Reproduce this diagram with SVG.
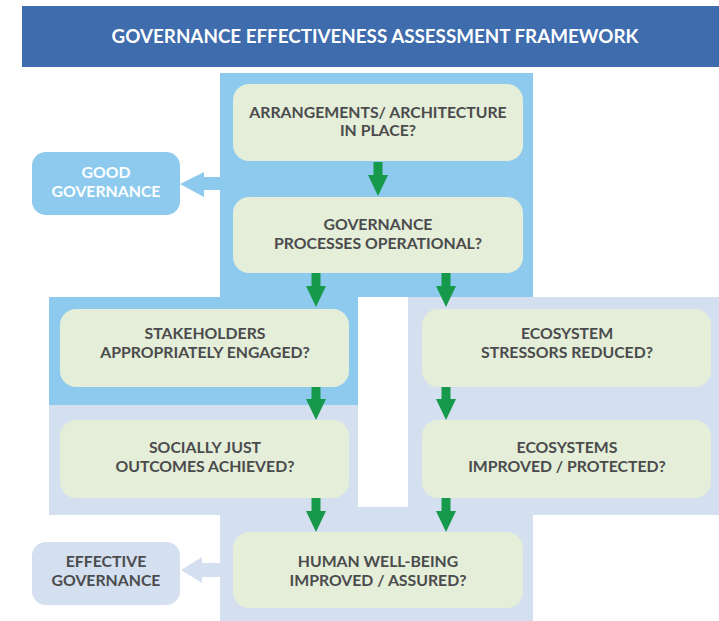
<svg xmlns="http://www.w3.org/2000/svg" width="719" height="621" viewBox="0 0 719 621">
  <style>
    .t { font-family: "Lato", "Open Sans", "Liberation Sans", sans-serif; font-weight: bold; text-anchor: middle; }
    .box { fill: #E4EED8; }
    .bt { font-size: 15.8px; fill: #4B4B4D; }
    .sky { fill: #8DCAEE; }
    .lav { fill: #D4DFF0; }
    .arr { fill: #16994A; }
  </style>
  <defs>
    <path id="garrow" d="M-4.5,0 H4.5 V13 H10 L0,34 L-10,13 H-4.5 Z"/>
  </defs>
  <rect width="719" height="621" fill="#FFFFFF"/>

  <!-- title bar -->
  <g id="title">
    <rect x="22" y="6" width="697" height="61" fill="#3E6CAD"/>
    <text class="t" x="375" y="43" font-size="18.8" fill="#FFFFFF">GOVERNANCE EFFECTIVENESS ASSESSMENT FRAMEWORK</text>
  </g>

  <!-- background regions -->
  <g id="regions">
    <path class="sky" d="M220,73 H533 V297 H358 V405 H49 V297 H220 Z"/>
    <rect class="lav" x="49" y="405" width="309" height="110"/>
    <rect class="lav" x="408" y="297" width="311" height="218"/>
    <rect class="lav" x="220" y="507" width="313" height="114"/>
  </g>

  <!-- connectors -->
  <g id="connectors">
    <use href="#garrow" class="arr" x="378" y="162"/>
    <use href="#garrow" class="arr" x="316" y="273"/>
    <use href="#garrow" class="arr" x="446" y="273"/>
    <use href="#garrow" class="arr" x="316" y="386"/>
    <use href="#garrow" class="arr" x="446" y="386"/>
    <use href="#garrow" class="arr" x="316" y="498"/>
    <use href="#garrow" class="arr" x="446" y="498"/>
    <path class="sky" d="M220,177 H204 V172 L180,184 L204,197 V190 H220 Z"/>
    <path class="lav" d="M220,563 H202 V557 L181,570 L202,583 V577 H220 Z"/>
  </g>

  <g id="arrangements">
    <rect class="box" x="233" y="84" width="290" height="77" rx="16"/>
    <text class="t bt" x="378" y="118">ARRANGEMENTS/ ARCHITECTURE</text>
    <text class="t bt" x="378" y="136">IN PLACE?</text>
  </g>

  <g id="processes">
    <rect class="box" x="233" y="197" width="290" height="76" rx="16"/>
    <text class="t bt" x="378" y="230">GOVERNANCE</text>
    <text class="t bt" x="378" y="249">PROCESSES OPERATIONAL?</text>
  </g>

  <g id="good-governance">
    <rect class="sky" x="32" y="152" width="148" height="63" rx="14"/>
    <text class="t" x="106" y="178" font-size="15.8" fill="#FFFFFF">GOOD</text>
    <text class="t" x="106" y="197" font-size="15.8" fill="#FFFFFF">GOVERNANCE</text>
  </g>

  <g id="stakeholders">
    <rect class="box" x="60" y="309" width="289" height="78" rx="16"/>
    <text class="t bt" x="205" y="339">STAKEHOLDERS</text>
    <text class="t bt" x="205" y="358">APPROPRIATELY ENGAGED?</text>
  </g>

  <g id="stressors">
    <rect class="box" x="422" y="309" width="289" height="78" rx="16"/>
    <text class="t bt" x="567" y="339">ECOSYSTEM</text>
    <text class="t bt" x="567" y="358">STRESSORS REDUCED?</text>
  </g>

  <g id="social">
    <rect class="box" x="60" y="420" width="289" height="78" rx="16"/>
    <text class="t bt" x="205" y="453">SOCIALLY JUST</text>
    <text class="t bt" x="205" y="472">OUTCOMES ACHIEVED?</text>
  </g>

  <g id="ecosystems">
    <rect class="box" x="422" y="420" width="289" height="78" rx="16"/>
    <text class="t bt" x="567" y="453">ECOSYSTEMS</text>
    <text class="t bt" x="567" y="472">IMPROVED / PROTECTED?</text>
  </g>

  <g id="wellbeing">
    <rect class="box" x="233" y="532" width="290" height="76" rx="16"/>
    <text class="t bt" x="378" y="567">HUMAN WELL-BEING</text>
    <text class="t bt" x="378" y="586">IMPROVED / ASSURED?</text>
  </g>

  <g id="effective-governance">
    <rect class="lav" x="32" y="542" width="148" height="63" rx="14"/>
    <text class="t bt" x="106" y="567">EFFECTIVE</text>
    <text class="t bt" x="106" y="586">GOVERNANCE</text>
  </g>
</svg>
